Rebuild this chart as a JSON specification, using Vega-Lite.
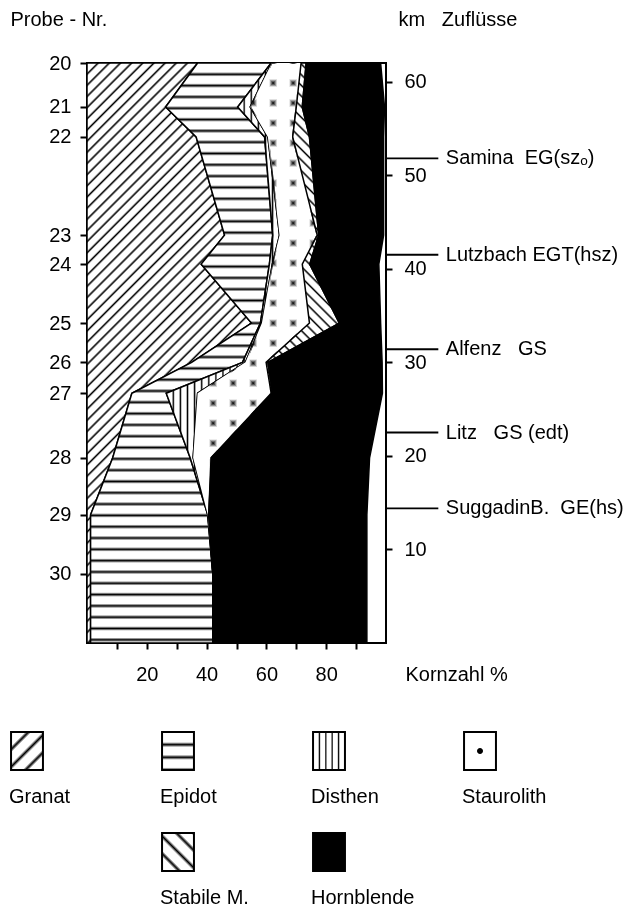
{
"$schema":"https://vega.github.io/schema/vega-lite/v6.json",
"autosize":"none",
"width":299,"height":580,
"padding":{"left":87,"top":63,"right":258,"bottom":265},
"background":"white",
"params":[{"name":"hatch","value":[
{"offset":0,"color":"#fff"},
{"offset":0.012,"color":"#fff"},{"offset":0.015,"color":"#000"},{"offset":0.018,"color":"#fff"},
{"offset":0.027,"color":"#fff"},{"offset":0.030,"color":"#000"},{"offset":0.033,"color":"#fff"},
{"offset":0.042,"color":"#fff"},{"offset":0.045,"color":"#000"},{"offset":0.048,"color":"#fff"},
{"offset":0.057,"color":"#fff"},{"offset":0.060,"color":"#000"},{"offset":0.063,"color":"#fff"},
{"offset":0.072,"color":"#fff"},{"offset":0.075,"color":"#000"},{"offset":0.078,"color":"#fff"},
{"offset":0.087,"color":"#fff"},{"offset":0.090,"color":"#000"},{"offset":0.093,"color":"#fff"},
{"offset":0.102,"color":"#fff"},{"offset":0.105,"color":"#000"},{"offset":0.108,"color":"#fff"},
{"offset":0.117,"color":"#fff"},{"offset":0.120,"color":"#000"},{"offset":0.123,"color":"#fff"},
{"offset":0.132,"color":"#fff"},{"offset":0.135,"color":"#000"},{"offset":0.138,"color":"#fff"},
{"offset":0.147,"color":"#fff"},{"offset":0.150,"color":"#000"},{"offset":0.153,"color":"#fff"},
{"offset":0.162,"color":"#fff"},{"offset":0.165,"color":"#000"},{"offset":0.168,"color":"#fff"},
{"offset":0.177,"color":"#fff"},{"offset":0.180,"color":"#000"},{"offset":0.183,"color":"#fff"},
{"offset":0.192,"color":"#fff"},{"offset":0.195,"color":"#000"},{"offset":0.198,"color":"#fff"},
{"offset":0.207,"color":"#fff"},{"offset":0.210,"color":"#000"},{"offset":0.213,"color":"#fff"},
{"offset":0.222,"color":"#fff"},{"offset":0.225,"color":"#000"},{"offset":0.228,"color":"#fff"},
{"offset":0.237,"color":"#fff"},{"offset":0.240,"color":"#000"},{"offset":0.243,"color":"#fff"},
{"offset":0.252,"color":"#fff"},{"offset":0.255,"color":"#000"},{"offset":0.258,"color":"#fff"},
{"offset":0.267,"color":"#fff"},{"offset":0.270,"color":"#000"},{"offset":0.273,"color":"#fff"},
{"offset":0.282,"color":"#fff"},{"offset":0.285,"color":"#000"},{"offset":0.288,"color":"#fff"},
{"offset":0.297,"color":"#fff"},{"offset":0.300,"color":"#000"},{"offset":0.303,"color":"#fff"},
{"offset":0.312,"color":"#fff"},{"offset":0.315,"color":"#000"},{"offset":0.318,"color":"#fff"},
{"offset":0.327,"color":"#fff"},{"offset":0.330,"color":"#000"},{"offset":0.333,"color":"#fff"},
{"offset":0.342,"color":"#fff"},{"offset":0.345,"color":"#000"},{"offset":0.348,"color":"#fff"},
{"offset":0.357,"color":"#fff"},{"offset":0.360,"color":"#000"},{"offset":0.363,"color":"#fff"},
{"offset":0.372,"color":"#fff"},{"offset":0.375,"color":"#000"},{"offset":0.378,"color":"#fff"},
{"offset":0.387,"color":"#fff"},{"offset":0.390,"color":"#000"},{"offset":0.393,"color":"#fff"},
{"offset":0.402,"color":"#fff"},{"offset":0.405,"color":"#000"},{"offset":0.408,"color":"#fff"},
{"offset":0.417,"color":"#fff"},{"offset":0.420,"color":"#000"},{"offset":0.423,"color":"#fff"},
{"offset":0.432,"color":"#fff"},{"offset":0.435,"color":"#000"},{"offset":0.438,"color":"#fff"},
{"offset":0.447,"color":"#fff"},{"offset":0.450,"color":"#000"},{"offset":0.453,"color":"#fff"},
{"offset":0.462,"color":"#fff"},{"offset":0.465,"color":"#000"},{"offset":0.468,"color":"#fff"},
{"offset":0.477,"color":"#fff"},{"offset":0.480,"color":"#000"},{"offset":0.483,"color":"#fff"},
{"offset":0.492,"color":"#fff"},{"offset":0.495,"color":"#000"},{"offset":0.498,"color":"#fff"},
{"offset":0.507,"color":"#fff"},{"offset":0.510,"color":"#000"},{"offset":0.513,"color":"#fff"},
{"offset":0.522,"color":"#fff"},{"offset":0.525,"color":"#000"},{"offset":0.528,"color":"#fff"},
{"offset":0.537,"color":"#fff"},{"offset":0.540,"color":"#000"},{"offset":0.543,"color":"#fff"},
{"offset":0.552,"color":"#fff"},{"offset":0.555,"color":"#000"},{"offset":0.558,"color":"#fff"},
{"offset":0.567,"color":"#fff"},{"offset":0.570,"color":"#000"},{"offset":0.573,"color":"#fff"},
{"offset":0.582,"color":"#fff"},{"offset":0.585,"color":"#000"},{"offset":0.588,"color":"#fff"},
{"offset":0.597,"color":"#fff"},{"offset":0.600,"color":"#000"},{"offset":0.603,"color":"#fff"},
{"offset":0.612,"color":"#fff"},{"offset":0.615,"color":"#000"},{"offset":0.618,"color":"#fff"},
{"offset":0.627,"color":"#fff"},{"offset":0.630,"color":"#000"},{"offset":0.633,"color":"#fff"},
{"offset":0.642,"color":"#fff"},{"offset":0.645,"color":"#000"},{"offset":0.648,"color":"#fff"},
{"offset":0.657,"color":"#fff"},{"offset":0.660,"color":"#000"},{"offset":0.663,"color":"#fff"},
{"offset":0.672,"color":"#fff"},{"offset":0.675,"color":"#000"},{"offset":0.678,"color":"#fff"},
{"offset":0.687,"color":"#fff"},{"offset":0.690,"color":"#000"},{"offset":0.693,"color":"#fff"},
{"offset":0.702,"color":"#fff"},{"offset":0.705,"color":"#000"},{"offset":0.708,"color":"#fff"},
{"offset":0.717,"color":"#fff"},{"offset":0.720,"color":"#000"},{"offset":0.723,"color":"#fff"},
{"offset":0.732,"color":"#fff"},{"offset":0.735,"color":"#000"},{"offset":0.738,"color":"#fff"},
{"offset":0.747,"color":"#fff"},{"offset":0.750,"color":"#000"},{"offset":0.753,"color":"#fff"},
{"offset":0.762,"color":"#fff"},{"offset":0.765,"color":"#000"},{"offset":0.768,"color":"#fff"},
{"offset":0.777,"color":"#fff"},{"offset":0.780,"color":"#000"},{"offset":0.783,"color":"#fff"},
{"offset":0.792,"color":"#fff"},{"offset":0.795,"color":"#000"},{"offset":0.798,"color":"#fff"},
{"offset":0.807,"color":"#fff"},{"offset":0.810,"color":"#000"},{"offset":0.813,"color":"#fff"},
{"offset":0.822,"color":"#fff"},{"offset":0.825,"color":"#000"},{"offset":0.828,"color":"#fff"},
{"offset":0.837,"color":"#fff"},{"offset":0.840,"color":"#000"},{"offset":0.843,"color":"#fff"},
{"offset":0.852,"color":"#fff"},{"offset":0.855,"color":"#000"},{"offset":0.858,"color":"#fff"},
{"offset":0.867,"color":"#fff"},{"offset":0.870,"color":"#000"},{"offset":0.873,"color":"#fff"},
{"offset":0.882,"color":"#fff"},{"offset":0.885,"color":"#000"},{"offset":0.888,"color":"#fff"},
{"offset":0.897,"color":"#fff"},{"offset":0.900,"color":"#000"},{"offset":0.903,"color":"#fff"},
{"offset":0.912,"color":"#fff"},{"offset":0.915,"color":"#000"},{"offset":0.918,"color":"#fff"},
{"offset":0.927,"color":"#fff"},{"offset":0.930,"color":"#000"},{"offset":0.933,"color":"#fff"},
{"offset":0.942,"color":"#fff"},{"offset":0.945,"color":"#000"},{"offset":0.948,"color":"#fff"},
{"offset":0.957,"color":"#fff"},{"offset":0.960,"color":"#000"},{"offset":0.963,"color":"#fff"},
{"offset":0.972,"color":"#fff"},{"offset":0.975,"color":"#000"},{"offset":0.978,"color":"#fff"},
{"offset":0.987,"color":"#fff"},{"offset":0.990,"color":"#000"},{"offset":0.993,"color":"#fff"},
{"offset":1,"color":"#fff"}
]}],
"datasets":{
"comp":[
{"probe":20,"km":62,"Granat":37,"Epidot":24.6,"Disthen":0.2,"Staurolith":9.8,"Stabile":1.7,"Hornblende":24.9},
{"probe":21,"km":57.3,"Granat":26.3,"Epidot":24.1,"Disthen":4.2,"Staurolith":15.4,"Stabile":2,"Hornblende":27.5},
{"probe":22,"km":54.1,"Granat":36.5,"Epidot":22.9,"Disthen":1.1,"Staurolith":8.3,"Stabile":5.6,"Hornblende":24.8},
{"probe":23,"km":43.6,"Granat":46,"Epidot":16.1,"Disthen":2.3,"Staurolith":12.6,"Stabile":0.5,"Hornblende":21.7},
{"probe":24,"km":40.5,"Granat":38.2,"Epidot":22.8,"Disthen":1,"Staurolith":10,"Stabile":2.5,"Hornblende":23.1},
{"probe":25,"km":34.2,"Granat":55,"Epidot":3,"Disthen":0.5,"Staurolith":15.9,"Stabile":10,"Hornblende":13.8},
{"probe":26,"km":30,"Granat":35,"Epidot":17,"Disthen":1,"Staurolith":6.9,"Stabile":0.6,"Hornblende":38.2},
{"probe":27,"km":26.7,"Granat":15,"Epidot":11.5,"Disthen":10.5,"Staurolith":24.6,"Stabile":0.5,"Hornblende":36.7},
{"probe":28,"km":19.8,"Granat":8.6,"Epidot":25.9,"Disthen":1,"Staurolith":6,"Stabile":0.2,"Hornblende":52.8},
{"probe":29,"km":13.7,"Granat":1.2,"Epidot":39.2,"Disthen":0,"Staurolith":0.3,"Stabile":0,"Hornblende":52.9},
{"probe":30,"km":7.4,"Granat":1.2,"Epidot":40.9,"Disthen":0,"Staurolith":0,"Stabile":0,"Hornblende":51.5},
{"probe":null,"km":0,"Granat":1.2,"Epidot":40.9,"Disthen":0,"Staurolith":0,"Stabile":0,"Hornblende":51.5}
],
"rivers":[
{"name":"Samina\u00a0\u00a0EG(szₒ)","km":51.8},
{"name":"Lutzbach\u00a0EGT(hsz)","km":41.5},
{"name":"Alfenz\u00a0\u00a0\u00a0GS","km":31.4},
{"name":"Litz\u00a0\u00a0\u00a0GS\u00a0(edt)","km":22.5},
{"name":"SuggadinB.\u00a0\u00a0GE(hs)","km":14.4}
]},
"layer":[
{
"data":{"name":"comp"},
"transform":[
{"fold":["Granat","Epidot","Disthen","Staurolith","Stabile","Hornblende"],"as":["mineral","pct"]},
{"calculate":"indexof(['Granat','Epidot','Disthen','Staurolith','Stabile','Hornblende'], datum.mineral)","as":"ord"},
{"stack":"pct","groupby":["km"],"sort":[{"field":"ord","order":"ascending"}],"as":["lo","hi"]}
],
"encoding":{
"y":{"field":"km","type":"quantitative","scale":{"domain":[0,62],"nice":false,"zero":false},
 "axis":{"orient":"left","values":[62,57.3,54.1,43.6,40.5,34.2,30,26.7,19.8,13.7,7.4],
  "labelExpr":"indexof([62,57.3,54.1,43.6,40.5,34.2,30,26.7,19.8,13.7,7.4], datum.value) + 20",
  "tickSize":7,"tickWidth":2,"labelPadding":9,"domain":false,"grid":false,"labelOverlap":false,"labelFlush":false,
  "title":"Probe\u00a0-\u00a0Nr.","titleAngle":0,"titleX":-77,"titleY":-44,"titleAlign":"left","titleBaseline":"middle"}},
"x":{"field":"lo","type":"quantitative","scale":{"domain":[0,100],"nice":false},
 "axis":{"orient":"bottom","values":[10,20,30,40,50,60,70,80,90],
  "labelExpr":"datum.value % 20 == 0 ? datum.label : ''",
  "tickSize":6,"tickWidth":2,"labelPadding":15,"domain":false,"grid":false,"labelFlush":false,
  "title":"Kornzahl %","titleX":318,"titleY":21,"titleAlign":"left","titleBaseline":"top","titleAngle":0}},
"x2":{"field":"hi"}
},
"layer":[
{"transform":[{"filter":"datum.mineral == 'Granat'"}],
 "mark":{"type":"area","orient":"horizontal","stroke":"#000","strokeWidth":1.5,
  "fill":{"expr":"{gradient:'linear',x1:0,y1:0,x2:0.337,y2:1.188,stops:hatch}"}}},
{"transform":[{"filter":"datum.mineral == 'Epidot'"}],
 "mark":{"type":"area","orient":"horizontal","stroke":"#000","strokeWidth":1.5,
  "fill":{"expr":"{gradient:'linear',x1:0,y1:0,x2:0,y2:1.3,stops:hatch}"}}},
{"transform":[{"filter":"datum.mineral == 'Disthen'"}],
 "mark":{"type":"area","orient":"horizontal","stroke":"#000","strokeWidth":1.5,
  "fill":{"expr":"{gradient:'linear',x1:0,y1:0,x2:4.17,y2:0,stops:hatch}"}}},
{"transform":[{"filter":"datum.mineral == 'Staurolith'"}],
 "mark":{"type":"area","orient":"horizontal","stroke":"#000","strokeWidth":1.5,
  "fill":{"expr":"{gradient:'linear',x1:0,y1:0,x2:0,y2:2.3,stops:hatch}"}}},
{"transform":[{"filter":"datum.mineral == 'Staurolith'"}],
 "mark":{"type":"area","orient":"horizontal","strokeWidth":0,"blend":"lighten",
  "fill":{"expr":"{gradient:'linear',x1:0,y1:0,x2:10.75,y2:0,stops:hatch}"}}},
{"transform":[{"filter":"datum.mineral == 'Stabile'"}],
 "mark":{"type":"area","orient":"horizontal","stroke":"#000","strokeWidth":1.5,
  "fill":{"expr":"{gradient:'linear',x1:0,y1:1,x2:0.2628,y2:-0.1661,stops:hatch}"}}},
{"transform":[{"filter":"datum.mineral == 'Hornblende'"}],
 "mark":{"type":"area","orient":"horizontal","stroke":"#000","strokeWidth":1.5,"fill":"#000"}}
]
},
{
"data":{"name":"rivers"},
"encoding":{
"y":{"field":"km","type":"quantitative","scale":{"domain":[0,62],"nice":false,"zero":false},
 "axis":{"orient":"right","values":[10,20,30,40,50,60],"tickSize":6,"tickWidth":2,"labelPadding":12,
  "domain":false,"grid":false,"labelFlush":false,
  "title":"km\u00a0\u00a0\u00a0Zuflüsse","titleAngle":0,"titleX":12,"titleY":-44,"titleAlign":"left","titleBaseline":"middle"}}
},
"layer":[
{"mark":{"type":"rule","stroke":"#000","strokeWidth":1.8},
 "encoding":{"x":{"datum":100,"type":"quantitative","scale":{"domain":[0,100],"nice":false},"axis":null},"x2":{"datum":117.5}}},
{"mark":{"type":"text","align":"left","baseline":"middle","fontSize":20,"font":"Liberation Sans","color":"#000"},
 "encoding":{"x":{"datum":120,"type":"quantitative","scale":{"domain":[0,100],"nice":false},"axis":null},"text":{"field":"name"}}}
]
},
{
"data":{"values":[{"m":"Granat"}]},
"transform":[{"filter":"false"}],
"mark":{"type":"square","opacity":1},
"encoding":{
"fill":{"field":"m","type":"nominal",
 "scale":{"domain":["Granat","Epidot","Disthen","Staurolith"," ","Stabile M.","Hornblende"],
  "range":[
   {"expr":"{gradient:'linear',x1:0,y1:0,x2:15.1,y2:17.96,stops:hatch}"},
   {"expr":"{gradient:'linear',x1:0,y1:0,x2:0,y2:22.2,stops:hatch}"},
   {"expr":"{gradient:'linear',x1:0,y1:0,x2:13.33,y2:0,stops:hatch}"},
   {"expr":"{gradient:'radial',x1:0.5,y1:0.5,r1:0,x2:0.5,y2:0.5,r2:0.5,stops:[{offset:0,color:'#000'},{offset:0.13,color:'#000'},{offset:0.18,color:'#fff'},{offset:1,color:'#fff'}]}"},
   "transparent",
   {"expr":"{gradient:'linear',x1:0,y1:1,x2:15.1,y2:-16.96,stops:hatch}"},
   "#000"]},
 "legend":{"orient":"none","legendX":-80,"legendY":668,"columns":4,"direction":"horizontal","title":null,
  "symbolType":"M-0.84,-1H0.84V1H-0.84Z","symbolSize":1444,"symbolStrokeWidth":2,
  "labelFontSize":20,"labelFont":"Liberation Sans","labelColor":"#000","gridAlign":"all",
  "columnPadding":45,"rowPadding":22,"labelOffset":-38,"labelLimit":0,"labelBaseline":"top",
  "labelExpr":"['\u00a0', datum.label]"}},
"stroke":{"field":"m","type":"nominal",
 "scale":{"domain":["Granat","Epidot","Disthen","Staurolith"," ","Stabile M.","Hornblende"],
  "range":["#000","#000","#000","#000","transparent","#000","#000"]}}
}
}
],
"resolve":{"axis":{"y":"independent","x":"independent"},"scale":{"fill":"independent","stroke":"independent"}},
"config":{
"font":"Liberation Sans",
"view":{"stroke":"#000","strokeWidth":2},
"style":{"guide-label":{"lineHeight":36}},
"axis":{"labelFontSize":20,"labelColor":"#000","tickColor":"#000","titleFontSize":20,"titleFontWeight":"normal","titleColor":"#000","labelFont":"Liberation Sans","titleFont":"Liberation Sans"}
}
}
